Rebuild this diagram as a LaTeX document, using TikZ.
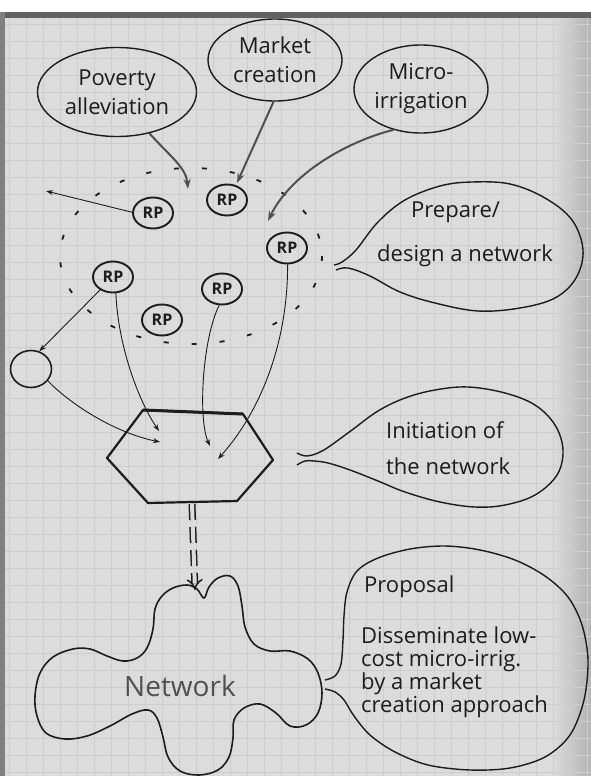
\documentclass[tikz,border=0pt]{standalone}
\usepackage{fontspec}
\setmainfont{Open Sans}
\usetikzlibrary{shapes.geometric,arrows.meta}
\definecolor{paper}{HTML}{DCDCDC}
\definecolor{gridc}{HTML}{CDCDCD}
\definecolor{ink}{HTML}{1C1C1C}
\definecolor{pencil}{HTML}{505050}
\begin{document}
\begin{tikzpicture}[x=1pt,y=-1pt,
  bubble/.style={ellipse, draw=ink, line width=1.4pt, inner sep=0pt, align=center, text=ink, font=\fontsize{22}{29}\selectfont},
  rpnode/.style={ellipse, draw=ink, line width=1.9pt, inner sep=0pt, minimum width=40pt, minimum height=31pt, text=ink, font=\bfseries\fontsize{16}{16}\selectfont},
  thinarrow/.style={draw=ink, line width=0.9pt, -{Stealth[length=7pt,width=5pt]}},
  boldarrow/.style={draw=pencil, line width=2pt, -{Stealth[length=10pt,width=7pt]}},
  dotring/.style={draw=ink, line width=1.8pt, dash pattern=on 5pt off 23pt},
  balloon/.style={draw=ink, line width=1.4pt},
  btext/.style={text=ink, align=left, inner sep=0pt, font=\fontsize{22}{24}\selectfont},
]
% paper background
\useasboundingbox (0,0) rectangle (591,776);
\fill[white] (0,0) rectangle (591,776);
\fill[paper] (0,12) rectangle (591,776);
\shade[left color=paper, right color=black!30] (552,18) rectangle (591,776);
\foreach \gx in {9,26,...,591} \draw[gridc, line width=0.4pt] (\gx,18) -- (\gx,776);
\foreach \gy in {24,41,...,776} \draw[gridc, line width=0.4pt] (5,\gy) -- (591,\gy);
\fill[black!62] (0,12) rectangle (591,18);
\fill[black!50] (0,12) rectangle (5,776);

% top topic bubbles
\node[bubble, minimum width=159pt, minimum height=89pt] (pov) at (117,92) {Poverty\\alleviation};
\node[bubble, minimum width=134pt, minimum height=82pt] (mkt) at (275,60) {Market\\creation};
\node[bubble, minimum width=134pt, minimum height=88pt] (mic) at (421,89) {Micro-\\irrigation};

% resource persons
\node[rpnode] (rp1) at (153,213) {RP};
\node[rpnode] (rp2) at (227,200) {RP};
\node[rpnode] (rp3) at (287,248) {RP};
\node[rpnode] (rp4) at (113,277) {RP};
\node[rpnode] (rp5) at (222,289) {RP};
\node[rpnode] (rp6) at (162,320) {RP};

% dashed ring
\draw[dotring] (191,256) ellipse [x radius=131, y radius=88];

% small circle
\node[ellipse, draw=ink, line width=1.6pt, minimum width=41pt, minimum height=37pt, inner sep=0pt] (sc) at (31,369) {};

% arrow targets
\coordinate (tp) at (188,189);
\coordinate (tm) at (237,183);
\coordinate (ti) at (268,221);
\coordinate (lt) at (46,191);
\coordinate (t4) at (159,431);
\coordinate (tc) at (160,442);
\coordinate (t5) at (210,446);
\coordinate (t3) at (218,459);

% arrows from topics
\draw[boldarrow] (pov.-52) .. controls (172,158) and (186,168) .. (tp);
\draw[boldarrow] (mkt.-92) -- (tm);
\draw[boldarrow] (mic.-124) .. controls (345,142) and (290,175) .. (ti);

% arrows among RPs
\draw[thinarrow] (rp1.178) -- (lt);
\draw[thinarrow] (rp4.-135) -- (sc.65);
\draw[thinarrow] (sc.-35) .. controls (68,402) and (112,432) .. (tc);
\draw[thinarrow] (rp4.-80) .. controls (118,345) and (138,400) .. (t4);
\draw[thinarrow] (rp5.-100) .. controls (202,340) and (198,420) .. (t5);
\draw[thinarrow] (rp3.-88) .. controls (288,340) and (262,410) .. (t3);

% hexagon
\coordinate (hA) at (143,410);
\coordinate (hB) at (243,414);
\coordinate (hC) at (273,460);
\coordinate (hD) at (237,501);
\coordinate (hE) at (148,503);
\coordinate (hF) at (107,458);
\draw[ink, line width=2.2pt, line join=round] (hA) -- (hB) -- (hC) -- (hD) -- (hE) -- (hF) -- cycle;
\draw[ink, line width=3pt] (hA) -- (hB);

% double dashed arrow to network
\coordinate (hbot) at (192,504);
\coordinate (ctop) at (195,590);
\draw[ink, line width=1.5pt, double=paper, double distance=4pt, dash pattern=on 16pt off 7pt, -{Implies[length=9pt]}] (hbot) -- (ctop);

% network cloud
\draw[balloon, line width=1.6pt] plot[smooth cycle, tension=0.6] coordinates {
 (204,598) (209,587) (218,578) (230,576) (238,586) (242,606) (245,627) (254,644) (270,651) (290,651)
 (308,659) (318,673) (322,693) (318,713) (306,725) (290,726) (276,713) (260,704) (244,708) (234,720)
 (233,738) (229,757) (218,770) (199,775) (180,771) (168,757) (163,737) (157,718) (148,710) (132,714)
 (110,726) (87,736) (65,739) (46,733) (37,716) (35,696) (40,673) (53,657) (73,649) (90,649)
 (107,656) (123,661) (137,658) (147,648) (153,629) (155,609) (162,596) (173,588) (187,585) (197,589)};
\node[text=pencil, font=\fontsize{28}{28}\selectfont] (net) at (180,686) {Network};

% balloon: prepare / design a network
\draw[balloon] plot[smooth, tension=0.6] coordinates {
 (334,265) (342,262) (356,250) (378,222) (405,200) (440,186) (472,182) (510,184) (545,198) (572,220)
 (583,250) (576,278) (555,298) (520,308) (478,311) (435,303) (400,292) (370,276) (348,268) (336,270)};
\node[btext, anchor=west] (prep) at (411,212) {Prepare/};
\node[btext, anchor=west] (desg) at (377,256) {design a network};

% balloon: initiation of the network
\draw[balloon] plot[smooth, tension=0.6] coordinates {
 (297,453) (306,456) (318,453) (330,446) (352,430) (378,411) (405,398) (435,390) (468,387) (505,393)
 (535,405) (555,425) (563,450) (557,475) (535,495) (505,505) (475,507) (440,502) (405,492) (378,481)
 (350,470) (328,463) (314,461) (305,461) (297,465)};
\node[btext, anchor=west, font=\fontsize{22}{36}\selectfont] (init) at (386,448) {Initiation of\\the network};

% balloon: proposal
\draw[balloon] plot[smooth, tension=0.55] coordinates {
 (325,680) (335,676) (341,664) (343,640) (344,616) (347,592) (357,571) (378,558) (410,549) (445,546)
 (480,550) (515,560) (545,576) (568,597) (582,625) (588,660) (584,700) (570,735) (545,757) (510,768)
 (470,770) (428,765) (395,752) (370,735) (354,716) (344,700) (335,692) (325,689)};
\node[btext, anchor=west] (prop) at (364,587) {Proposal};
\node[btext, anchor=west, font=\fontsize{22}{23}\selectfont] (diss) at (361,672) {Disseminate low-\\cost micro-irrig.\\by a market\\creation approach};
\end{tikzpicture}
\end{document}
